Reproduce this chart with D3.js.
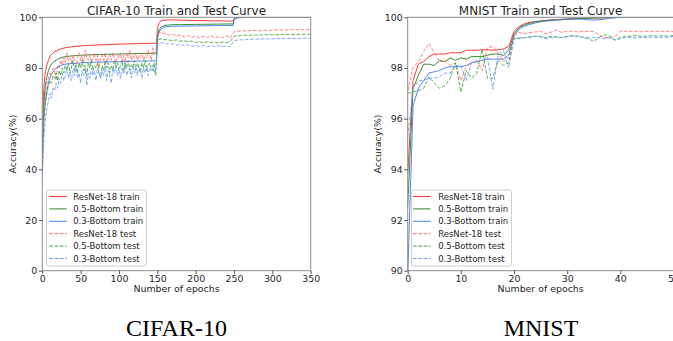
<!DOCTYPE html>
<html>
<head>
<meta charset="utf-8">
<script src="https://cdn.jsdelivr.net/npm/d3@7"></script>
<style>
  body { margin: 0; background: #fff; }
  svg { display: block; font-family: "DejaVu Sans", sans-serif; }
  .caption { font-family: "Liberation Serif", "Times New Roman", serif; }
</style>
</head>
<body>
<svg id="chart" width="673" height="341"></svg>
<script>
// ---- data: CIFAR-10 ----
const cifarTrainEpochs = [0, 1, 2, 3, 4, 5, 6, 8, 10, 12, 15, 20, 25, 30, 40, 50, 60, 75, 100, 125, 149,
  150, 152, 155, 160, 170, 180, 200, 225, 249, 250, 252, 255, 260, 280, 300, 350]
const cifarResTrain = [40, 65, 72, 76, 78.5, 80, 81.3, 83, 84.5, 85.3, 86.2, 87, 87.6, 88, 88.4, 88.7, 88.9, 89.1, 89.4, 89.6, 89.8,
  95.5, 97.8, 98.6, 98.9, 99.0, 98.9, 98.7, 98.6, 98.5, 99.5, 99.8, 99.9, 99.95, 100, 100, 100]
const cifarB05Train = [40, 58, 65, 70, 73, 75, 76.5, 79, 80.5, 81.5, 82.5, 83.5, 84.1, 84.5, 84.8, 85, 85.2, 85.3, 85.5, 85.7, 85.8,
  92.5, 95, 96.2, 96.8, 97.1, 97.1, 97.2, 97.3, 97.4, 99.3, 99.7, 99.85, 99.9, 100, 100, 100]
const cifarB03Train = [38, 52, 60, 64, 67, 69, 71, 74, 76, 77.5, 79, 80.5, 81.1, 81.5, 81.8, 82, 82.2, 82.3, 82.5, 82.7, 82.8,
  91, 94, 95.4, 96.2, 96.5, 96.5, 96.6, 96.7, 96.8, 99.2, 99.6, 99.8, 99.9, 100, 100, 100]

// test: every 2 epochs up to 148, then every 5 epochs from 150 to 350
const cifarTestEpochs = d3.range(0, 150, 2).concat(d3.range(150, 351, 5))
const cifarResTest = [42, 62, 70, 74, 76, 78, 77, 80, 79, 75, 81, 80, 83, 81, 84, 82, 86, 83, 84, 82,
  85, 83, 81, 84, 86, 83, 85, 82, 87, 84, 83, 85, 82, 84, 86, 83, 85, 80, 84, 85,
  83, 86, 82, 84, 85, 83, 86, 84, 82, 85, 84, 86, 83, 85, 82, 86, 84, 87, 83, 85,
  84, 86, 83, 85, 84, 86, 83, 85, 84, 87, 85, 83, 88, 85, 86,
  93.5, 94.0, 93.6, 93.0, 93.4, 92.6, 93.1, 92.3, 92.8, 92.0, 92.6, 91.8, 92.5, 92.1, 92.8, 91.9, 92.4, 92.0, 92.7, 91.8,
  94.3, 94.5, 94.6, 94.7, 94.7, 94.8, 94.8, 94.8, 94.9, 94.9, 94.9, 95.0, 95.0, 95.0, 95.0, 95.1, 95.1, 95.1, 95.1, 95.1, 95.1]
const cifarB05Test = [40, 58, 66, 70, 73, 75, 74, 77, 76, 78, 75, 79, 77, 80, 78, 81, 79, 82, 78, 80,
  83, 79, 81, 78, 82, 80, 83, 79, 81, 77, 82, 80, 83, 79, 81, 80, 82, 78, 76, 81,
  79, 83, 80, 82, 78, 81, 79, 83, 80, 82, 79, 81, 83, 78, 82, 80, 83, 79, 81, 80,
  83, 79, 82, 80, 78, 82, 80, 83, 79, 81, 82, 80, 79, 82, 77,
  91.0, 91.5, 91.2, 91.0, 90.8, 91.1, 90.6, 90.8, 90.3, 90.6, 90.1, 90.4, 89.9, 90.3, 90.0, 90.2, 89.8, 90.3, 89.9, 90.4,
  92.5, 92.7, 92.8, 92.9, 92.9, 93.0, 93.0, 93.0, 93.1, 93.1, 93.1, 93.1, 93.2, 93.2, 93.2, 93.2, 93.2, 93.3, 93.3, 93.3, 93.3]
const cifarB03Test = [38, 52, 60, 64, 67, 70, 68, 72, 71, 74, 72, 76, 74, 78, 75, 77, 80, 76, 78, 75,
  79, 77, 81, 76, 78, 74, 79, 77, 80, 73, 78, 76, 80, 77, 79, 75, 80, 78, 76, 79,
  77, 81, 75, 79, 77, 74, 80, 78, 81, 77, 79, 76, 80, 78, 82, 77, 79, 80, 76, 81,
  78, 80, 77, 81, 79, 76, 80, 78, 81, 77, 80, 79, 81, 78, 80,
  89.5, 90.0, 89.8, 89.4, 89.6, 89.0, 89.3, 88.8, 89.1, 88.6, 88.9, 88.5, 88.8, 88.4, 88.7, 88.5, 88.8, 88.4, 88.7, 88.3,
  90.8, 91.0, 91.1, 91.2, 91.3, 91.3, 91.4, 91.4, 91.5, 91.5, 91.5, 91.6, 91.6, 91.6, 91.6, 91.7, 91.7, 91.7, 91.7, 91.8, 91.8]

// ---- data: MNIST (one value per epoch, 0..50) ----
const mnistEpochs = d3.range(0, 51)
const mnistResTrain = [93.8, 97.5, 98.15, 98.25, 98.45, 98.55, 98.55, 98.55, 98.6, 98.6,
  98.6, 98.7, 98.7, 98.7, 98.72, 98.72, 98.7, 98.72, 98.75, 98.85,
  99.45, 99.65, 99.75, 99.8, 99.83, 99.86, 99.88, 99.9, 99.91, 99.92,
  99.93, 99.94, 99.95, 99.96, 99.97, 99.97, 99.98, 99.98, 99.99, 99.99,
  100, 100, 100, 100, 100, 100, 100, 100, 100, 100, 100]
const mnistB05Train = [92.5, 97.2, 97.7, 98.15, 98.15, 98.1, 98.3, 98.25, 98.4, 98.3,
  98.4, 98.35, 98.45, 98.45, 98.45, 98.5, 98.55, 98.55, 98.5, 98.7,
  99.35, 99.6, 99.7, 99.77, 99.82, 99.85, 99.87, 99.89, 99.9, 99.92,
  99.93, 99.94, 99.95, 99.96, 99.96, 99.97, 99.97, 99.98, 99.98, 99.99,
  100, 100, 100, 100, 100, 100, 100, 100, 100, 100, 100]
const mnistB03Train = [89.8, 96.5, 97.2, 97.5, 97.8, 97.85, 97.9, 98.0, 98.05, 98.05,
  98.05, 98.1, 98.2, 98.25, 98.3, 98.35, 98.35, 98.35, 98.35, 98.5,
  99.25, 99.55, 99.65, 99.72, 99.78, 99.82, 99.85, 99.87, 99.89, 99.9,
  99.92, 99.93, 99.93, 99.92, 99.9, 99.89, 99.9, 99.93, 99.96, 99.98,
  100, 100, 100, 100, 100, 100, 100, 100, 100, 100, 100]
const mnistResTest = [97.1, 98.0, 98.25, 98.65, 98.97, 98.6, 98.25, 98.3, 98.1, 98.2,
  97.5, 98.05, 98.2, 98.3, 97.9, 98.8, 98.85, 98.6, 98.25, 98.4,
  99.35, 99.4, 99.35, 99.4, 99.42, 99.45, 99.35, 99.42, 99.5, 99.4,
  99.45, 99.45, 99.42, 99.45, 99.45, 99.43, 99.3, 99.2, 99.2, 99.25,
  99.45, 99.45, 99.45, 99.45, 99.43, 99.45, 99.45, 99.44, 99.45, 99.45, 99.43]
const mnistB05Test = [97.0, 97.05, 97.1, 97.2, 97.65, 97.4, 97.2, 97.3, 97.6, 98.2,
  97.05, 97.9, 97.6, 97.8, 98.75, 97.6, 97.6, 98.3, 98.1, 98.2,
  99.2, 99.15, 99.2, 99.22, 99.25, 99.25, 99.2, 99.25, 99.22, 99.2,
  99.25, 99.28, 99.25, 99.2, 99.15, 99.05, 99.2, 99.32, 99.25, 99.1,
  99.2, 99.25, 99.25, 99.28, 99.25, 99.25, 99.28, 99.25, 99.28, 99.25, 99.28]
const mnistB03Test = [95.3, 97.2, 97.5, 97.5, 97.6, 97.6, 97.65, 97.8, 97.8, 98.1,
  98.1, 97.5, 98.2, 98.3, 98.3, 98.45, 97.15, 98.5, 98.7, 98.0,
  99.15, 99.2, 99.2, 99.22, 99.25, 99.22, 99.15, 99.2, 99.22, 99.2,
  99.22, 99.25, 99.25, 99.22, 99.2, 99.2, 99.2, 99.15, 99.18, 99.1,
  99.15, 99.2, 99.2, 99.18, 99.2, 99.2, 99.22, 99.2, 99.2, 99.22, 99.25]

const seriesNames = ['ResNet-18 train', '0.5-Bottom train', '0.3-Bottom train',
  'ResNet-18 test', '0.5-Bottom test', '0.3-Bottom test']
const seriesColors = ['#ff3030', '#2a8a2a', '#4a7df2', '#ff6b6b', '#3aa63a', '#6f9bff']
const seriesDashed = [false, false, false, true, true, true]

const cifarYTicks = [0, 20, 40, 60, 80, 100]
const cifarXTicks = [0, 50, 100, 150, 200, 250, 300, 350]
const mnistYTicks = [90, 92, 94, 96, 98, 100]
const mnistXTicks = [0, 10, 20, 30, 40, 50]

const svg = d3.select('#chart')

/**
 * Draws one panel with axes, curves and legend.
 */
function drawPanel(p) {
  const x = d3.scaleLinear().domain(p.xDomain).range([p.left, p.right])
  const y = d3.scaleLinear().domain(p.yDomain).range([p.bottom, p.top])
  const g = svg.append('g')

  const clipId = 'clip-' + p.id
  g.append('clipPath').attr('id', clipId)
    .append('rect')
    .attr('x', p.left).attr('y', p.top)
    .attr('width', p.right - p.left).attr('height', p.bottom - p.top)

  const lines = g.append('g').attr('clip-path', 'url(#' + clipId + ')')
  p.series.forEach((s, i) => {
    const line = d3.line()
      .x((d, j) => x(s.xs[j]))
      .y(d => y(d))
    lines.append('path')
      .attr('d', line(s.ys))
      .attr('fill', 'none')
      .attr('stroke', seriesColors[i])
      .attr('stroke-width', 1)
      .attr('stroke-opacity', seriesDashed[i] ? 0.85 : 0.95)
      .attr('stroke-dasharray', seriesDashed[i] ? '3.7,1.6' : null)
  })

  // spines
  g.append('rect')
    .attr('x', p.left).attr('y', p.top)
    .attr('width', p.right - p.left).attr('height', p.bottom - p.top)
    .attr('fill', 'none').attr('stroke', '#8c8c8c').attr('stroke-width', 1)

  const yAxis = g.append('g')
    .attr('transform', 'translate(' + p.left + ',0)')
    .call(d3.axisLeft(y).tickValues(p.yTicks).tickSizeInner(3.5).tickSizeOuter(0).tickPadding(1.5))
  const xAxis = g.append('g')
    .attr('transform', 'translate(0,' + p.bottom + ')')
    .call(d3.axisBottom(x).tickValues(p.xTicks).tickSizeInner(3.5).tickSizeOuter(0).tickPadding(0.8))
  ;[yAxis, xAxis].forEach(a => {
    a.select('.domain').remove()
    a.selectAll('line').attr('stroke', '#555')
    a.selectAll('text').attr('fill', '#262626').attr('font-size', 9.4)
      .attr('font-family', '"DejaVu Sans", sans-serif')
  })

  g.append('text')
    .attr('x', (p.left + p.right) / 2).attr('y', p.top - 2.8)
    .attr('text-anchor', 'middle').attr('font-size', 12).attr('fill', '#262626')
    .text(p.title)
  g.append('text')
    .attr('x', (p.left + p.right) / 2).attr('y', p.bottom + 21.5)
    .attr('text-anchor', 'middle').attr('font-size', 9.4).attr('fill', '#262626')
    .text('Number of epochs')
  g.append('text')
    .attr('transform', 'translate(' + p.yLabelX + ',' + (p.top + p.bottom) / 2 + ') rotate(-90)')
    .attr('text-anchor', 'middle').attr('font-size', 9.4).attr('fill', '#262626')
    .text('Accuracy(%)')

  // legend
  const lg = g.append('g').attr('transform', 'translate(' + p.legendX + ',190)')
  lg.append('rect')
    .attr('x', 0).attr('y', 0).attr('width', 100).attr('height', 76).attr('rx', 2)
    .attr('fill', 'white').attr('fill-opacity', 0.85)
    .attr('stroke', '#d0d0d0').attr('stroke-width', 1)
  seriesNames.forEach((name, i) => {
    const yy = 6.5 + i * 12.4
    lg.append('line')
      .attr('x1', p.handleX).attr('x2', p.handleX + 17.5).attr('y1', yy).attr('y2', yy)
      .attr('stroke', seriesColors[i]).attr('stroke-width', 1)
      .attr('stroke-dasharray', seriesDashed[i] ? '3.7,1.6' : null)
    lg.append('text')
      .attr('x', 26.7).attr('y', yy + 3)
      .attr('font-size', 8.5).attr('fill', '#262626')
      .text(name)
  })

  svg.append('text').attr('class', 'caption')
    .attr('x', p.captionX).attr('y', 336)
    .attr('text-anchor', 'middle').attr('font-size', 24).attr('fill', '#000')
    .text(p.caption)
}

drawPanel({
  id: 'cifar', title: 'CIFAR-10 Train and Test Curve', caption: 'CIFAR-10',
  left: 42.3, right: 310.7, top: 17.3, bottom: 270.7,
  xDomain: [0, 350], yDomain: [0, 100], xTicks: cifarXTicks, yTicks: cifarYTicks,
  yLabelX: 16, legendX: 46.5, handleX: 2.8, captionX: 176.5,
  series: [
    { xs: cifarTrainEpochs, ys: cifarResTrain },
    { xs: cifarTrainEpochs, ys: cifarB05Train },
    { xs: cifarTrainEpochs, ys: cifarB03Train },
    { xs: cifarTestEpochs, ys: cifarResTest },
    { xs: cifarTestEpochs, ys: cifarB05Test },
    { xs: cifarTestEpochs, ys: cifarB03Test }
  ]
})

drawPanel({
  id: 'mnist', title: 'MNIST Train and Test Curve', caption: 'MNIST',
  left: 407.7, right: 673.5, top: 17.3, bottom: 270.7,
  xDomain: [0, 50], yDomain: [90, 100], xTicks: mnistXTicks, yTicks: mnistYTicks,
  yLabelX: 381, legendX: 411.5, handleX: 1.5, captionX: 541,
  series: [
    { xs: mnistEpochs, ys: mnistResTrain },
    { xs: mnistEpochs, ys: mnistB05Train },
    { xs: mnistEpochs, ys: mnistB03Train },
    { xs: mnistEpochs, ys: mnistResTest },
    { xs: mnistEpochs, ys: mnistB05Test },
    { xs: mnistEpochs, ys: mnistB03Test }
  ]
})
</script>
</body>
</html>
